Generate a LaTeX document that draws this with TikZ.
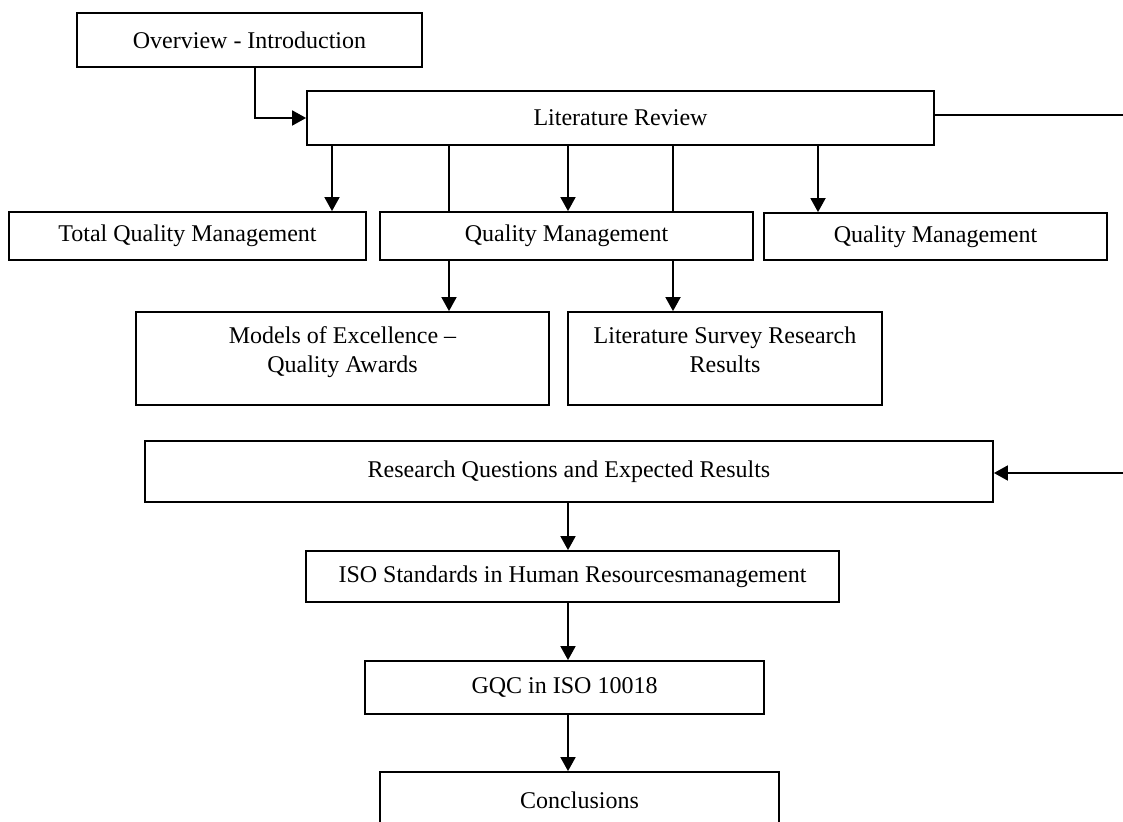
\documentclass[tikz,border=0pt]{standalone}
\usepackage{fontspec}
\setmainfont{Liberation Serif}
\usetikzlibrary{arrows.meta}
\begin{document}
\begin{tikzpicture}[x=0.5pt, y=-0.5pt, line width=0.9pt,
  >={Triangle[length=7pt,width=7.5pt]},
  box/.style={draw, align=center, inner sep=0pt, font=\fontsize{12pt}{14.5pt}\selectfont}]
 \useasboundingbox (0,0) rectangle (1123,822);
 % top row
 \node[box, minimum width=172.5pt, minimum height=27pt] (ov) at (249.5,40) {Overview - Introduction};
 \node[box, minimum width=313.5pt, minimum height=27pt] (lr) at (620.5,118) {Literature Review};
 % second row
 \node[box, minimum width=178.5pt, minimum height=24pt] (tqm) at (187.5,236) {Total Quality Management};
 \node[box, minimum width=186.5pt, minimum height=24pt] (qm) at (566.5,236) {Quality Management};
 \node[box, minimum width=171.5pt, minimum height=23.5pt] (qmr) at (935.5,236.5) {Quality Management};
 % third row
 \node[box, minimum width=206.5pt, minimum height=46.5pt, text depth=9pt] (moe) at (342.5,358.5) {Models of Excellence --\\Quality Awards};
 \node[box, minimum width=157pt, minimum height=46.5pt, text depth=9pt] (lsr) at (725,358.5) {Literature Survey Research\\Results};
 % lower chain
 \node[box, minimum width=424pt, minimum height=30.5pt] (rq) at (569,471.5) {Research Questions and Expected Results};
 \node[box, minimum width=266.5pt, minimum height=25.5pt] (iso) at (572.5,576.5) {ISO Standards in Human Resourcesmanagement};
 \node[box, minimum width=199.5pt, minimum height=26.5pt] (gqc) at (564.5,687.5) {GQC in ISO 10018};
 \node[box, minimum width=199.5pt, minimum height=28pt] (con) at (579.5,800) {Conclusions};
 % columns of the connectors
 \coordinate (c0) at (255,0);
 \coordinate (c1) at (332,0);
 \coordinate (c2) at (449,0);
 \coordinate (c3) at (568,0);
 \coordinate (c4) at (673,0);
 \coordinate (c5) at (818,0);
 \coordinate (re1) at (1123,115);
 \coordinate (re2) at (1123,473);
 \draw[->] (c0 |- ov.south) |- (lr.west);
 \draw[->] (c1 |- lr.south) -- (c1 |- tqm.north);
 \draw (c2 |- lr.south) -- (c2 |- qm.north);
 \draw[->] (c3 |- lr.south) -- (c3 |- qm.north);
 \draw (c4 |- lr.south) -- (c4 |- qm.north);
 \draw[->] (c5 |- lr.south) -- (c5 |- qmr.north);
 \draw[->] (c2 |- qm.south) -- (c2 |- moe.north);
 \draw[->] (c4 |- qm.south) -- (c4 |- lsr.north);
 \draw (lr.east |- re1) -- (re1);
 \draw[->] (re2) -- (rq.east |- re2);
 \draw[->] (c3 |- rq.south) -- (c3 |- iso.north);
 \draw[->] (c3 |- iso.south) -- (c3 |- gqc.north);
 \draw[->] (c3 |- gqc.south) -- (c3 |- con.north);
\end{tikzpicture}
\end{document}
